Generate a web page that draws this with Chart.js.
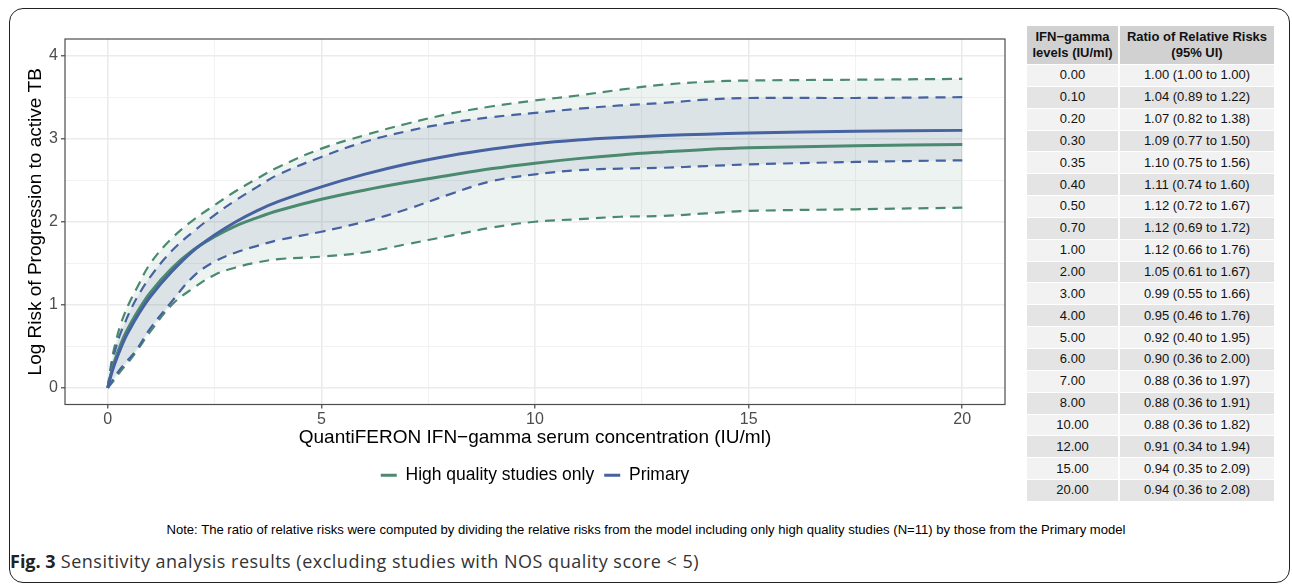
<!DOCTYPE html>
<html>
<head>
<meta charset="utf-8">
<script src="https://cdn.jsdelivr.net/npm/chart.js@4.4.1/dist/chart.umd.min.js"></script>
<style>
html,body{margin:0;padding:0;background:#fff;}
body{width:1292px;height:584px;position:relative;overflow:hidden;font-family:"Liberation Sans",Arial,sans-serif;}
#frame{position:absolute;left:9px;top:8px;width:1281px;height:575px;border:1.5px solid #222;border-radius:14px;box-sizing:border-box;}
#chartBox{position:absolute;left:0;top:0;width:1015px;height:494px;}
#tbl{position:absolute;left:1027px;top:26px;border-collapse:separate;border-spacing:0;font-size:13px;color:#111;}
#tbl th{background:#D1D1D1;font-weight:bold;height:39px;line-height:16px;padding:0;border-bottom:1px solid #fff;box-sizing:border-box;}
#tbl td{height:21.85px;padding:0;text-align:center;border-bottom:1px solid #fff;box-sizing:border-box;line-height:20px;}
#tbl .c1{width:93px;border-right:2px solid #fff;}
#tbl .c2{width:154px;}
#tbl tr.odd td{background:#F2F2F2;}
#tbl tr.even td{background:#E4E4E4;}
#note{position:absolute;left:0;width:1292px;top:522px;text-align:center;font-size:13.1px;color:#000;}
#caption{position:absolute;left:10px;top:549px;font-size:18px;letter-spacing:0.5px;color:#333;font-family:"Open Sans","Liberation Sans",Arial,sans-serif;white-space:nowrap;}
#caption b{color:#222;letter-spacing:0;}
</style>
</head>
<body>
<div id="frame"></div>
<div id="chartBox"><canvas id="c" width="1015" height="494"></canvas></div>
<table id="tbl"><thead><tr><th class="c1">IFN−gamma<br>levels (IU/ml)</th><th class="c2">Ratio of Relative Risks<br>(95% UI)</th></tr></thead><tbody id="tbody"></tbody></table>
<div id="note">Note: The ratio of relative risks were computed by dividing the relative risks from the model including only high quality studies (N=11) by those from the Primary model</div>
<div id="caption"><b>Fig. 3</b> Sensitivity analysis results (excluding studies with NOS quality score &lt; 5)</div>
<script>
// ---- data ----
const xValues      = [0, 0.1, 0.2, 0.3, 0.4, 0.5, 0.7, 1, 1.5, 2, 2.5, 3, 3.5, 4, 5, 6, 7, 8, 9, 10, 11, 12, 13, 14, 15, 17.5, 20];
const primaryMean  = [0, 0.19, 0.34, 0.47, 0.59, 0.69, 0.87, 1.10, 1.40, 1.65, 1.84, 2.00, 2.135, 2.245, 2.42, 2.57, 2.695, 2.795, 2.875, 2.94, 2.985, 3.015, 3.037, 3.054, 3.068, 3.09, 3.10];
const primaryUpper = [0, 0.30, 0.50, 0.66, 0.78, 0.90, 1.10, 1.34, 1.65, 1.88, 2.08, 2.26, 2.42, 2.57, 2.78, 2.96, 3.09, 3.19, 3.26, 3.31, 3.36, 3.40, 3.43, 3.47, 3.49, 3.49, 3.50];
const primaryLower = [0, 0.08, 0.16, 0.23, 0.29, 0.35, 0.48, 0.72, 1.04, 1.34, 1.52, 1.63, 1.71, 1.78, 1.88, 2.00, 2.15, 2.33, 2.49, 2.57, 2.62, 2.64, 2.65, 2.67, 2.69, 2.72, 2.74];
const highMean     = [0, 0.22, 0.38, 0.52, 0.64, 0.74, 0.92, 1.15, 1.44, 1.66, 1.82, 1.95, 2.05, 2.135, 2.27, 2.38, 2.475, 2.56, 2.64, 2.705, 2.76, 2.805, 2.84, 2.87, 2.89, 2.915, 2.93];
const highUpper    = [0, 0.35, 0.58, 0.76, 0.90, 1.02, 1.22, 1.50, 1.80, 2.02, 2.20, 2.37, 2.52, 2.66, 2.88, 3.04, 3.18, 3.30, 3.39, 3.46, 3.52, 3.59, 3.65, 3.685, 3.70, 3.71, 3.72];
const highLower    = [0, 0.06, 0.13, 0.20, 0.26, 0.32, 0.46, 0.68, 1.00, 1.20, 1.36, 1.45, 1.51, 1.55, 1.58, 1.63, 1.73, 1.83, 1.93, 2.00, 2.03, 2.06, 2.07, 2.10, 2.13, 2.15, 2.17];

const xMajorTicks = [0, 5, 10, 15, 20];
const xMinorTicks = [2.5, 7.5, 12.5, 17.5];
const yMajorTicks = [0, 1, 2, 3, 4];
const yMinorTicks = [0.5, 1.5, 2.5, 3.5];

const ifnLevels = ["0.00","0.10","0.20","0.30","0.35","0.40","0.50","0.70","1.00","2.00","3.00","4.00","5.00","6.00","7.00","8.00","10.00","12.00","15.00","20.00"];
const ratioLabels = ["1.00 (1.00 to 1.00)","1.04 (0.89 to 1.22)","1.07 (0.82 to 1.38)","1.09 (0.77 to 1.50)","1.10 (0.75 to 1.56)","1.11 (0.74 to 1.60)","1.12 (0.72 to 1.67)","1.12 (0.69 to 1.72)","1.12 (0.66 to 1.76)","1.05 (0.61 to 1.67)","0.99 (0.55 to 1.66)","0.95 (0.46 to 1.76)","0.92 (0.40 to 1.95)","0.90 (0.36 to 2.00)","0.88 (0.36 to 1.97)","0.88 (0.36 to 1.91)","0.88 (0.36 to 1.82)","0.91 (0.34 to 1.94)","0.94 (0.35 to 2.09)","0.94 (0.36 to 2.08)"];

// ---- table ----
const tbody = document.getElementById('tbody');
ifnLevels.forEach((lv, i) => {
  const tr = document.createElement('tr');
  tr.className = i % 2 === 0 ? 'odd' : 'even';
  const a = document.createElement('td'); a.className = 'c1'; a.textContent = lv;
  const b = document.createElement('td'); b.className = 'c2'; b.textContent = ratioLabels[i];
  tr.appendChild(a); tr.appendChild(b); tbody.appendChild(tr);
});

// ---- chart ----
const GREEN = '#4B8A6F';
const BLUE = '#4662A0';
const FONT = '"Liberation Sans", Arial, sans-serif';
const xy = arr => xValues.map((x, i) => ({x: x, y: arr[i]}));

const panelBorder = {
  id: 'panelBorder',
  afterDraw(chart) {
    const {ctx, chartArea: a} = chart;
    ctx.save();
    ctx.strokeStyle = '#4d4d4d';
    ctx.lineWidth = 1.2;
    ctx.strokeRect(a.left, a.top, a.right - a.left, a.bottom - a.top);
    ctx.restore();
  }
};

function gridFor(major) {
  const isMajor = c => c.tick && major.includes(c.tick.value);
  return {
    color: c => isMajor(c) ? '#EBEBEB' : '#F2F2F2',
    lineWidth: c => isMajor(c) ? 1.6 : 1,
    tickColor: c => isMajor(c) ? '#333333' : 'rgba(0,0,0,0)',
    tickWidth: c => isMajor(c) ? 1.1 : 0,
    tickLength: 4,
    drawTicks: true
  };
}

const dashed = {borderWidth: 2.2, borderDash: [10, 7], pointRadius: 0, tension: 0.4};
const solid = {borderWidth: 3, pointRadius: 0, tension: 0.4, fill: false};

new Chart(document.getElementById('c'), {
  type: 'line',
  data: {
    datasets: [
      Object.assign({label: 'Primary', data: xy(primaryMean), borderColor: BLUE, backgroundColor: BLUE}, solid),
      Object.assign({label: 'High quality studies only', data: xy(highMean), borderColor: GREEN, backgroundColor: GREEN}, solid),
      Object.assign({label: 'Primary upper', data: xy(primaryUpper), borderColor: BLUE, fill: 3, backgroundColor: 'rgba(70,98,160,0.11)'}, dashed),
      Object.assign({label: 'Primary lower', data: xy(primaryLower), borderColor: BLUE, fill: false}, dashed),
      Object.assign({label: 'High upper', data: xy(highUpper), borderColor: GREEN, fill: 5, backgroundColor: 'rgba(75,138,111,0.10)'}, dashed),
      Object.assign({label: 'High lower', data: xy(highLower), borderColor: GREEN, fill: false}, dashed)
    ]
  },
  options: {
    responsive: false,
    animation: false,
    devicePixelRatio: 1,
    layout: {padding: {left: 0, right: 10, top: 39, bottom: 0}},
    scales: {
      x: {
        type: 'linear', min: -1, max: 21,
        afterBuildTicks: s => { s.ticks = xMajorTicks.concat(xMinorTicks).sort((a, b) => a - b).map(v => ({value: v})); },
        afterFit: s => { s.height = 52; },
        ticks: {callback: v => xMajorTicks.includes(v) ? String(v) : '', font: {family: FONT, size: 16}, color: '#4D4D4D', padding: 1, maxRotation: 0, autoSkip: false},
        grid: gridFor(xMajorTicks),
        border: {display: false},
        title: {display: true, text: 'QuantiFERON IFN−gamma serum concentration (IU/ml)', font: {family: FONT, size: 19}, color: '#000', padding: {top: 0, bottom: 7}}
      },
      y: {
        type: 'linear', min: -0.2, max: 4.2,
        afterBuildTicks: s => { s.ticks = yMajorTicks.concat(yMinorTicks).sort((a, b) => a - b).map(v => ({value: v})); },
        afterFit: s => { s.width = 65; },
        ticks: {callback: v => yMajorTicks.includes(v) ? String(v) : '', font: {family: FONT, size: 16}, color: '#4D4D4D', padding: 3, autoSkip: false},
        grid: gridFor(yMajorTicks),
        border: {display: false},
        title: {display: true, text: 'Log Risk of Progression to active TB', font: {family: FONT, size: 19}, color: '#000', padding: {top: 24, bottom: 0}}
      }
    },
    plugins: {
      tooltip: {enabled: false},
      legend: {
        position: 'bottom',
        fullSize: false,
        labels: {
          usePointStyle: true, pointStyle: 'line', pointStyleWidth: 16,
          font: {family: FONT, size: 17.5}, color: '#000', padding: 10,
          filter: item => item.datasetIndex < 2,
          sort: (a, b) => b.datasetIndex - a.datasetIndex
        }
      }
    }
  },
  plugins: [panelBorder]
});
</script>
</body>
</html>
